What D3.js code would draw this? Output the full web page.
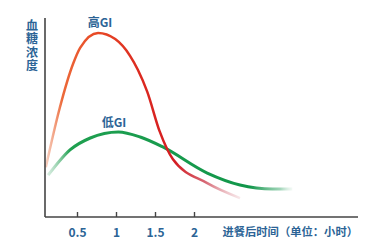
<!DOCTYPE html>
<html>
<head>
<meta charset="utf-8">
<script src="https://cdn.jsdelivr.net/npm/d3@7"></script>
<style>
  body { margin: 0; background: #fff; }
  text { font-family: "Noto Sans CJK SC", "Noto Sans", sans-serif; fill: #2c6496; font-weight: bold; }
</style>
</head>
<body>
<div id="chart"></div>
<script>
const WIDTH = 375
const HEIGHT = 250

// hours after meal, blood glucose (relative)
const highT = [0.10, 0.28, 0.45, 0.54, 0.77, 0.99, 1.18, 1.28, 1.40, 1.56, 1.73, 2.17, 2.59]
const highV = [25, 55, 77, 85, 92.5, 89.4, 81, 74, 63, 43, 29, 17, 9.5]
const lowT = [0.13, 0.41, 0.67, 1.03, 1.31, 1.60, 2.17, 2.59, 3.01, 3.26]
const lowV = [21, 33.7, 39.7, 42.7, 40.2, 35.2, 22.1, 16.1, 14.1, 14.1]
const xTicks = [0.5, 1, 1.5, 2]
const yLabel = '血糖浓度'

const main = _ => {
    const x = d3.scaleLinear().domain([0, 1]).range([38, 116])
    const y = d3.scaleLinear().domain([0, 100]).range([217, 18])

    const svg = d3.select('#chart').append('svg')
        .attr('width', WIDTH).attr('height', HEIGHT)

    const defs = svg.append('defs')
    const grad = (id, stops) => {
        const g = defs.append('linearGradient').attr('id', id)
            .attr('gradientUnits', 'userSpaceOnUse')
            .attr('x1', stops[0][0]).attr('x2', stops[stops.length - 1][0])
            .attr('y1', 0).attr('y2', 0)
        const span = stops[stops.length - 1][0] - stops[0][0]
        stops.forEach(([px, c, o]) => g.append('stop')
            .attr('offset', (px - stops[0][0]) / span)
            .attr('stop-color', c).attr('stop-opacity', o))
    }
    grad('redGrad', [[46, '#f0a080', 0.5], [62, '#ec6a3a', 1], [95, '#e84a26', 1], [140, '#dc2a20', 1], [175, '#d41c22', 1], [205, '#cc4050', 0.8], [242, '#e0a0a8', 0.2]])
    grad('greenGrad', [[48, '#9ad0b0', 0.4], [70, '#1fa050', 1], [250, '#11964a', 1], [280, '#60b888', 0.6], [294, '#c0e0cc', 0.1]])

    const line = d3.line().x(d => x(d[0])).y(d => y(d[1])).curve(d3.curveMonotoneX)

    svg.append('path')
        .datum(lowT.map((t, i) => [t, lowV[i]]))
        .attr('d', line).attr('fill', 'none')
        .attr('stroke', 'url(#greenGrad)').attr('stroke-width', 3)

    svg.append('path')
        .datum(highT.map((t, i) => [t, highV[i]]))
        .attr('d', line).attr('fill', 'none')
        .attr('stroke', 'url(#redGrad)').attr('stroke-width', 2.5)

    // axes
    const xAxis = d3.axisBottom(x).tickValues(xTicks).tickSize(-5).tickPadding(11)
        .tickFormat(d3.format('~g'))
    const gx = svg.append('g').attr('transform', `translate(0, ${y(0)})`).call(xAxis)
    gx.select('.domain').attr('d', `M45,0H358`).attr('stroke', '#444').attr('stroke-width', 1.6)
    gx.selectAll('.tick line').attr('stroke', '#444').attr('stroke-width', 1.4)
    gx.selectAll('.tick text').style('font-size', '12px').attr('fill', '#2c6496')

    svg.append('line').attr('x1', 45).attr('x2', 45).attr('y1', 18).attr('y2', y(0))
        .attr('stroke', '#444').attr('stroke-width', 1.6)

    svg.append('text').attr('x', 358).attr('y', 236).attr('text-anchor', 'end')
        .style('font-size', '11.3px').text('进餐后时间（单位：小时）')

    // vertical y label
    svg.append('text').attr('x', 32).attr('y', 19)
        .style('writing-mode', 'vertical-rl').style('letter-spacing', '1.5px')
        .style('font-size', '12px').text(yLabel)

    svg.append('text').attr('x', 100).attr('y', 27).attr('text-anchor', 'middle')
        .style('font-size', '12px').text('高GI')
    svg.append('text').attr('x', 114).attr('y', 127).attr('text-anchor', 'middle')
        .style('font-size', '12px').text('低GI')
}

document.addEventListener('DOMContentLoaded', main)
</script>
</body>
</html>
